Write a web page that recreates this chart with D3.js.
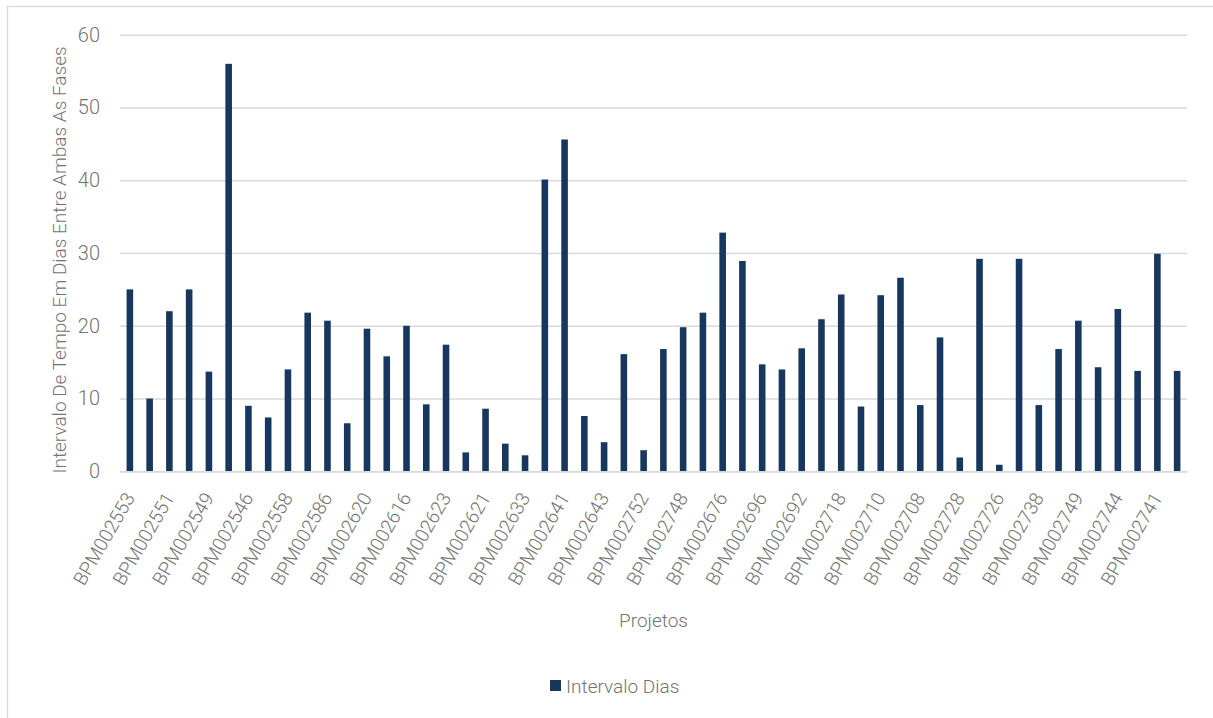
<!DOCTYPE html>
<html>
<head>
<meta charset="utf-8">
<script src="https://cdn.jsdelivr.net/npm/d3@7"></script>
<style>
  html, body { margin: 0; padding: 0; background: #ffffff; }
  svg { display: block; }
  text { font-family: "Roboto", "Liberation Sans", sans-serif; font-weight: 300; }
</style>
</head>
<body>
<svg id="chart" width="1213" height="718"></svg>
<script>
// ---- data ----
const categories = [
  "BPM002553","BPM002552","BPM002551","BPM002550","BPM002549","BPM002548",
  "BPM002546","BPM002547","BPM002558","BPM002559","BPM002586","BPM002587",
  "BPM002620","BPM002619","BPM002616","BPM002617","BPM002623","BPM002622",
  "BPM002621","BPM002632","BPM002633","BPM002640","BPM002641","BPM002642",
  "BPM002643","BPM002751","BPM002752","BPM002747","BPM002748","BPM002675",
  "BPM002676","BPM002695","BPM002696","BPM002691","BPM002692","BPM002717",
  "BPM002718","BPM002709","BPM002710","BPM002707","BPM002708","BPM002727",
  "BPM002728","BPM002725","BPM002726","BPM002737","BPM002738","BPM002750",
  "BPM002749","BPM002743","BPM002744","BPM002740","BPM002741","BPM002742"
];
const values = [
  25, 10, 22, 25, 13.7, 56,
  9, 7.4, 14, 21.8, 20.7, 6.6,
  19.6, 15.8, 20, 9.2, 17.4, 2.6,
  8.6, 3.8, 2.2, 40.1, 45.6, 7.6,
  4, 16.1, 2.9, 16.8, 19.8, 21.8,
  32.8, 28.9, 14.7, 14, 16.9, 20.9,
  24.3, 8.9, 24.2, 26.6, 9.1, 18.4,
  1.9, 29.2, 0.9, 29.2, 9.1, 16.8,
  20.7, 14.3, 22.3, 13.8, 29.9, 13.8
];
const yTicks = [0, 10, 20, 30, 40, 50, 60];
const seriesName = "Intervalo Dias";
const xTitle = "Projetos";
const yTitle = "Intervalo De Tempo Em Dias Entre Ambas As Fases";

// ---- layout ----
const svg = d3.select("#chart");
const W = 1213, H = 718;
const plot = { left: 120, right: 1187, top: 34.7, bottom: 471.3 };
const barColor = "#17375E";
const textColor = "#737373";
const gridColor = "#d9d9d9";
const fs = "19px";

// outer chart border
svg.append("rect")
  .attr("x", 7.5).attr("y", 6.5)
  .attr("width", W + 20).attr("height", H + 20)
  .attr("fill", "none").attr("stroke", gridColor).attr("stroke-width", 1.3);

const x = d3.scaleBand()
  .domain(categories)
  .range([plot.left, plot.right])
  .paddingInner(0.667)
  .paddingOuter(0.333);

const y = d3.scaleLinear()
  .domain([0, 60])
  .range([plot.bottom, plot.top]);

// gridlines + y axis labels
const yAxis = d3.axisLeft(y).tickValues(yTicks).tickSize(-(plot.right - plot.left)).tickPadding(20);
const gy = svg.append("g")
  .attr("transform", `translate(${plot.left},0)`)
  .call(yAxis);
gy.select(".domain").remove();
gy.selectAll(".tick line").attr("stroke", gridColor).attr("stroke-width", 1.4);
gy.selectAll(".tick text")
  .attr("fill", textColor)
  .style("font-size", "20px");

// bars
svg.append("g").selectAll("rect")
  .data(values)
  .join("rect")
  .attr("x", (d, i) => x(categories[i]))
  .attr("y", d => y(d))
  .attr("width", x.bandwidth())
  .attr("height", d => y(0) - y(d))
  .attr("fill", barColor);

// x axis (every other label shown)
const xAxis = d3.axisBottom(x)
  .tickSize(0)
  .tickFormat((d, i) => (i % 2 === 0 ? d : ""));
const gx = svg.append("g")
  .attr("transform", `translate(0,${plot.bottom})`)
  .call(xAxis);
gx.select(".domain").attr("stroke", gridColor).attr("stroke-width", 1.4);
gx.selectAll(".tick text")
  .attr("fill", textColor)
  .style("font-size", fs)
  .attr("text-anchor", "end")
  .attr("dy", null)
  .attr("y", null)
  .attr("transform", "translate(0,23) rotate(-60)")
  .attr("dominant-baseline", "central");

// axis titles
svg.append("text")
  .attr("x", (plot.left + plot.right) / 2)
  .attr("y", 627)
  .attr("text-anchor", "middle")
  .attr("fill", textColor)
  .style("font-size", fs)
  .text(xTitle);

svg.append("text")
  .attr("transform", `translate(66,${(plot.top + plot.bottom) / 2 + 7}) rotate(-90)`)
  .attr("text-anchor", "middle")
  .attr("fill", textColor)
  .style("font-size", fs)
  .text(yTitle);

// legend
const lg = svg.append("g").attr("transform", "translate(550,680)");
lg.append("rect").attr("x", 0).attr("y", 0).attr("width", 11).attr("height", 11).attr("fill", barColor);
lg.append("text").attr("x", 16).attr("y", 12.5)
  .attr("fill", textColor).style("font-size", fs).text(seriesName);
</script>
</body>
</html>
